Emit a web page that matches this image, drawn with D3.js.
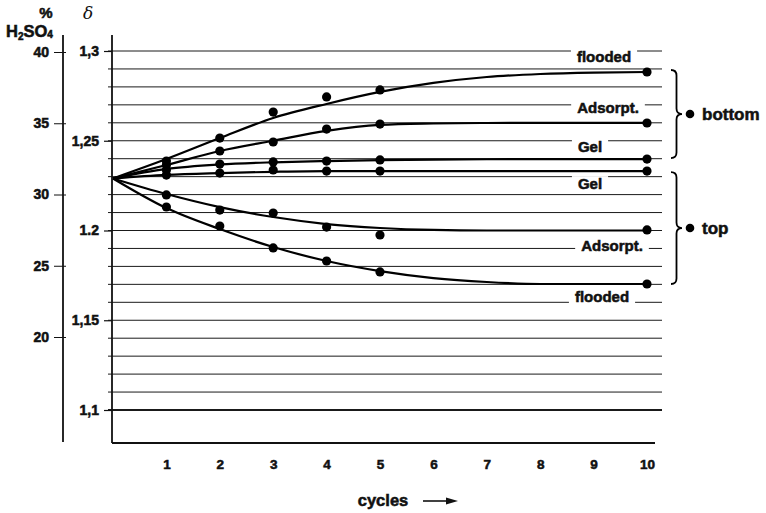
<!DOCTYPE html>
<html><head><meta charset="utf-8">
<script src="https://cdn.jsdelivr.net/npm/d3@7"></script>
<style>
body{margin:0;background:#fff}
svg{display:block;font-family:"Liberation Sans",Arial,Helvetica,sans-serif;font-weight:bold}
svg text{stroke:#111;stroke-width:0.55px;fill:#111}
svg text.greek{stroke-width:0}
</style></head><body>
<svg id="chart" width="766" height="513"></svg>
<script>
// ---- data ----
const fitCycles = [0, 1, 2, 3, 4, 5, 6, 7, 8, 9, 10];
const measuredCycles = [1, 2, 3, 4, 5, 10];
const cycleTicks = [1, 2, 3, 4, 5, 6, 7, 8, 9, 10];
const densityTicks = [1.1, 1.15, 1.2, 1.25, 1.3];
const densityTickLabels = ["1,1", "1,15", "1.2", "1,25", "1,3"];
const acidTicks = [20, 25, 30, 35, 40];
const gridDensities = d3.range(110, 131).map(v => v / 100);

// acid density at the bottom of the cell
const bottomFloodedPts = [1.2387, 1.2515, 1.2660, 1.2744, 1.2783, 1.2883];
const bottomFloodedFit = [1.229, 1.2398, 1.2515, 1.2627, 1.2705, 1.2772, 1.2822, 1.2855, 1.2872, 1.2880, 1.2883];
const bottomAdsorptPts = [1.2365, 1.2443, 1.2493, 1.2565, 1.2593, 1.2599];
const bottomAdsorptFit = [1.229, 1.2365, 1.2443, 1.2500, 1.2555, 1.2588, 1.2596, 1.2599, 1.2600, 1.2600, 1.2600];
const bottomGelPts = [1.2337, 1.2370, 1.2382, 1.2387, 1.2393, 1.2398];
const bottomGelFit = [1.229, 1.2343, 1.2368, 1.2380, 1.2387, 1.2392, 1.2395, 1.2397, 1.2398, 1.2398, 1.2398];

// acid density at the top of the cell
const topGelPts = [1.2309, 1.2320, 1.2337, 1.2331, 1.2331, 1.2331];
const topGelFit = [1.229, 1.2310, 1.2320, 1.2327, 1.2331, 1.2331, 1.2331, 1.2331, 1.2331, 1.2331, 1.2331];
const topAdsorptPts = [1.2198, 1.2114, 1.2097, 1.2019, 1.1975, 1.2003];
const topAdsorptFit = [1.229, 1.2203, 1.2130, 1.2075, 1.2036, 1.2014, 1.2003, 1.2000, 1.2000, 1.2000, 1.2000];
const topFloodedPts = [1.2131, 1.2025, 1.1903, 1.1830, 1.1769, 1.1702];
const topFloodedFit = [1.229, 1.2125, 1.2008, 1.1908, 1.1830, 1.1774, 1.1735, 1.1713, 1.1702, 1.1702, 1.1702];

const seriesLabels = ["flooded", "Adsorpt.", "Gel", "Gel", "Adsorpt.", "flooded"];
const groupLabels = ["bottom", "top"];

// ---- layout ----
const svg = d3.select("#chart");
const x = d3.scaleLinear().domain([0, 10]).range([113, 647]);
const y = d3.scaleLinear().domain([1.1, 1.3]).range([410, 51]);
const acid = d3.scaleLinear().domain([20, 40]).range([337, 52]);
const axisTop = 35, axisBottom = 443, gridRight = 662;

const series = [
  { pts: bottomFloodedPts, fit: bottomFloodedFit, label: seriesLabels[0], lx: 604, dy: -10 },
  { pts: bottomAdsorptPts, fit: bottomAdsorptFit, label: seriesLabels[1], lx: 608, dy: -10 },
  { pts: bottomGelPts, fit: bottomGelFit, label: seriesLabels[2], lx: 590, dy: -7 },
  { pts: topGelPts, fit: topGelFit, label: seriesLabels[3], lx: 590, dy: 18 },
  { pts: topAdsorptPts, fit: topAdsorptFit, label: seriesLabels[4], lx: 612, dy: 20 },
  { pts: topFloodedPts, fit: topFloodedFit, label: seriesLabels[5], lx: 602, dy: 18 }
];

// horizontal grid, one line per 0.01 density
svg.append("g").selectAll("line").data(gridDensities).join("line")
  .attr("x1", 108).attr("x2", gridRight)
  .attr("y1", d => y(d)).attr("y2", d => y(d))
  .attr("stroke", "#1a1a1a")
  .attr("stroke-width", d => Math.abs(d - 1.1) < 1e-6 ? 2.2 : 1);

// density axis
const dAxis = svg.append("g").attr("transform", "translate(112,0)")
  .call(d3.axisLeft(y).tickValues(densityTicks).tickSize(8).tickPadding(5)
    .tickFormat((d, i) => densityTickLabels[i]));
dAxis.select(".domain").remove();
dAxis.selectAll("line").attr("stroke", "#111").attr("stroke-width", 1.2);
dAxis.selectAll("text").attr("font-size", 14).attr("font-weight", "bold")
  .attr("font-family", "'Liberation Sans',Arial,sans-serif");
svg.append("line").attr("x1", 112).attr("x2", 112).attr("y1", axisTop).attr("y2", axisBottom)
  .attr("stroke", "#111").attr("stroke-width", 1.8);

// acid concentration axis
const aAxis = svg.append("g").attr("transform", "translate(63,0)")
  .call(d3.axisLeft(acid).tickValues(acidTicks).tickSize(8).tickPadding(6));
aAxis.select(".domain").remove();
aAxis.selectAll("line").attr("stroke", "#111").attr("stroke-width", 1).attr("x2", -9).attr("x1", 3);
aAxis.selectAll("text").attr("font-size", 14).attr("font-weight", "bold")
  .attr("font-family", "'Liberation Sans',Arial,sans-serif");
svg.append("line").attr("x1", 63).attr("x2", 63).attr("y1", axisTop).attr("y2", axisBottom - 1)
  .attr("stroke", "#111").attr("stroke-width", 1.8);

// cycle axis
const cAxis = svg.append("g").attr("transform", `translate(0,${axisBottom})`)
  .call(d3.axisBottom(x).tickValues(cycleTicks).tickSize(0).tickPadding(16));
cAxis.select(".domain").attr("d", `M112,0H655`).attr("stroke", "#111").attr("stroke-width", 1.8);
cAxis.selectAll("text").attr("font-size", 13.5).attr("font-weight", "bold")
  .attr("font-family", "'Liberation Sans',Arial,sans-serif");

// axis titles
svg.append("text").attr("x", 46).attr("y", 18).attr("text-anchor", "middle")
  .attr("font-size", 15).text("%");
const h = svg.append("text").attr("x", 6).attr("y", 37).attr("font-size", 16.5);
h.append("tspan").text("H");
h.append("tspan").attr("font-size", 10).attr("dy", 3).text("2");
h.append("tspan").attr("dy", -3).text("SO");
h.append("tspan").attr("font-size", 10).attr("dy", 1).text("4");
svg.append("text").attr("class", "greek").attr("x", 88).attr("y", 19).attr("text-anchor", "middle")
  .attr("font-family", "'DejaVu Serif',serif").attr("font-style", "italic")
  .attr("font-weight", "normal").attr("font-size", 17).text("δ");

svg.append("text").attr("x", 383).attr("y", 506).attr("text-anchor", "middle")
  .attr("font-size", 16.5).text("cycles");
svg.append("line").attr("x1", 423).attr("x2", 448).attr("y1", 501).attr("y2", 501)
  .attr("stroke", "#111").attr("stroke-width", 1.6);
svg.append("path").attr("d", "M446,497.5L458,501L446,504.5Z").attr("fill", "#111");

// curve labels on white patches that break the grid
const lab = svg.append("g");
series.forEach(s => {
  const t = lab.append("text").attr("x", s.lx).attr("y", y(s.fit[s.fit.length - 1]) + s.dy)
    .attr("text-anchor", "middle").attr("font-size", 15).text(s.label);
  const b = t.node().getBBox();
  lab.insert("rect", "text").attr("x", b.x - 6).attr("y", b.y + 1).attr("width", b.width + 12)
    .attr("height", b.height - 2).attr("fill", "#fff");
});

// fitted curves
const line = d3.line().x((d, i) => x(fitCycles[i])).y(d => y(d)).curve(d3.curveMonotoneX);
svg.append("g").selectAll("path").data(series).join("path")
  .attr("d", s => line(s.fit)).attr("fill", "none")
  .attr("stroke", "#000").attr("stroke-width", 2.2);

// measured points
series.forEach(s => {
  svg.append("g").selectAll("circle").data(s.pts).join("circle")
    .attr("cx", (d, i) => x(measuredCycles[i])).attr("cy", d => y(d)).attr("r", 4.6)
    .attr("fill", "#000");
});

// group braces
function brace(bx, y0, y1, w) {
  const ym = (y0 + y1) / 2, r = w / 2;
  return `M${bx},${y0}Q${bx + r},${y0} ${bx + r},${y0 + r}L${bx + r},${ym - r}Q${bx + r},${ym} ${bx + w},${ym}` +
    `Q${bx + r},${ym} ${bx + r},${ym + r}L${bx + r},${y1 - r}Q${bx + r},${y1} ${bx},${y1}`;
}
const groups = [
  { y0: y(bottomFloodedFit[10]) - 2, y1: y(bottomGelFit[10]) - 1, label: groupLabels[0] },
  { y0: y(topGelFit[10]) + 1, y1: y(topFloodedFit[10]), label: groupLabels[1] }
];
groups.forEach(g => {
  const ym = (g.y0 + g.y1) / 2;
  svg.append("path").attr("d", brace(671, g.y0, g.y1, 11)).attr("fill", "none")
    .attr("stroke", "#000").attr("stroke-width", 1.8);
  svg.append("circle").attr("cx", 690).attr("cy", ym).attr("r", 4.3).attr("fill", "#000");
  svg.append("text").attr("x", 702).attr("y", ym + 6).attr("font-size", 17).text(g.label);
});
</script>
</body></html>
